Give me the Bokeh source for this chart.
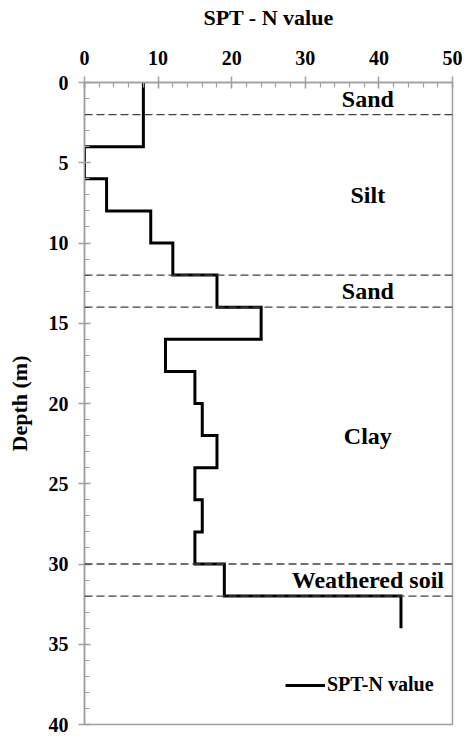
from bokeh.plotting import figure
from bokeh.models import Range1d, Span, Label, Legend, LegendItem
from bokeh.embed import file_html
from bokeh.resources import INLINE

# Layer tops/bottoms (m) and SPT-N values
depth_top = [0, 4, 6, 8, 10, 12, 14, 16, 18, 20, 22, 24, 26, 28, 30, 32]
depth_bot = [4, 6, 8, 10, 12, 14, 16, 18, 20, 22, 24, 26, 28, 30, 32, 34]
spt_n = [8, 0, 3, 9, 12, 18, 24, 11, 15, 16, 18, 15, 16, 15, 19, 43]

boundaries = [2, 12, 14, 30, 32]
soil_names = ["Sand", "Silt", "Sand", "Clay", "Weathered soil"]
soil_depths = [1, 7, 13, 22, 31]
soil_x = 38.5

FONT = "Liberation Serif"
AXC = "#a0a0a0"

xs, ys = [], []
for n, t, b in zip(spt_n, depth_top, depth_bot):
    xs += [n, n]
    ys += [t, b]

p = figure(width=464, height=736, output_backend="svg", toolbar_location=None,
           x_range=Range1d(0, 50), y_range=Range1d(40, 0),
           x_axis_location="above", min_border_left=84, min_border_right=12,
           min_border_top=82, min_border_bottom=12)
p.grid.visible = False
p.background_fill_color = "white"
p.border_fill_color = "white"
p.outline_line_color = AXC
p.outline_line_width = 1.5

for ax in [p.xaxis[0], p.yaxis[0]]:
    ax.axis_line_color = AXC
    ax.axis_line_width = 1.5
    ax.major_tick_line_color = AXC
    ax.minor_tick_line_color = AXC
    ax.major_tick_line_width = 1.5
    ax.minor_tick_line_width = 1.2
    ax.major_tick_in = 6
    ax.major_tick_out = 6
    ax.minor_tick_in = 5
    ax.minor_tick_out = 0
    ax.major_label_text_font = FONT
    ax.major_label_text_font_style = "bold"
    ax.major_label_text_font_size = "20px"
    ax.major_label_text_color = "black"
    ax.axis_label_text_font = FONT
    ax.axis_label_text_font_style = "bold"
    ax.axis_label_text_font_size = "22px"
    ax.axis_label_text_color = "black"

p.xaxis[0].ticker.desired_num_ticks = 6
p.xaxis[0].ticker.num_minor_ticks = 5
p.xaxis[0].axis_label = "SPT - N value"
p.xaxis[0].major_label_standoff = 12
p.xaxis[0].axis_label_standoff = 18

p.yaxis[0].ticker.desired_num_ticks = 9
p.yaxis[0].ticker.num_minor_ticks = 5
p.yaxis[0].axis_label = "Depth (m)"
p.yaxis[0].major_label_standoff = 10
p.yaxis[0].axis_label_standoff = 14

for d in boundaries:
    p.add_layout(Span(location=d, dimension="width", line_color="#404040",
                      line_width=1.3, line_dash="8 4"))

r = p.line(xs, ys, line_color="black", line_width=3, line_join="miter")

for name, d in zip(soil_names, soil_depths):
    p.add_layout(Label(x=soil_x, y=d, text=name, text_align="center",
                       text_baseline="middle", text_font=FONT,
                       text_font_style="bold", text_font_size="24px",
                       text_color="black"))

legend = Legend(items=[LegendItem(label="SPT-N value", renderers=[r])],
                location=(201, 28), border_line_color=None,
                background_fill_alpha=0, padding=0, margin=0,
                glyph_width=40, label_standoff=2,
                label_text_font=FONT, label_text_font_style="bold",
                label_text_font_size="20px", label_text_color="black")
p.add_layout(legend)

open("out.html", "w").write(file_html(p, INLINE))
